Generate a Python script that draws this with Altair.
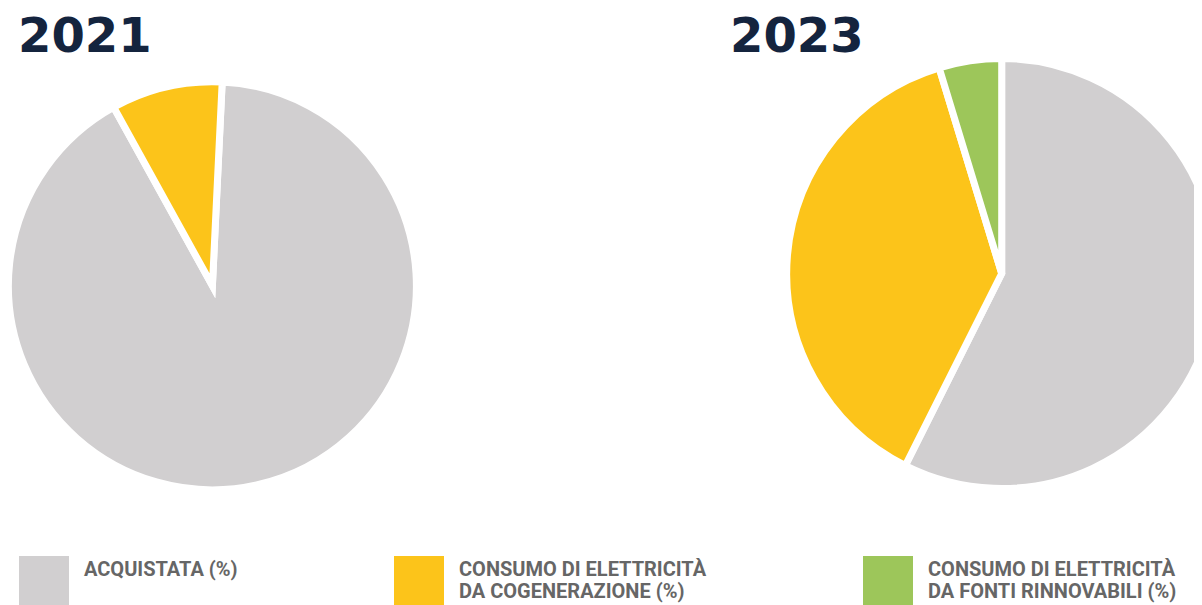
import math
import altair as alt
import pandas as pd

# ---- data ----
years = ["2021", "2023"]
categories = [
    "ACQUISTATA (%)",
    "CONSUMO DI ELETTRICITÀ|DA COGENERAZIONE (%)",
    "CONSUMO DI ELETTRICITÀ|DA FONTI RINNOVABILI (%)",
]
colors = ["#D1CFD0", "#FCC41A", "#9DC65A"]
values_2021 = [91.2, 8.8]
values_2023 = [57.4, 37.9, 4.7]

rows = []
for yr, vals in (("2021", values_2021), ("2023", values_2023)):
    for i, v in enumerate(vals):
        rows.append({"year": yr, "category": categories[i], "order": i, "value": v})
df = pd.DataFrame(rows)
titles_df = pd.DataFrame({"year": years})

color = alt.Color(
    "category:N",
    scale=alt.Scale(domain=categories, range=colors),
    sort=categories,
    legend=alt.Legend(
        title=None,
        orient="none",
        legendX=11,
        legendY=548,
        direction="horizontal",
        columns=3,
        symbolType="square",
        symbolSize=2500,
        symbolStrokeWidth=0,
        symbolOpacity=1,
        labelFont="Roboto",
        labelFontWeight="bold",
        labelFontSize=20,
        labelColor="#666666",
        labelOffset=15,
        labelLimit=500,
        labelBaseline="line-bottom",
        columnPadding=156,
        padding=0,
        labelExpr="split(datum.label, '|')",
    ),
)


def pie(year, cx, cy, r, start):
    return (
        alt.Chart(df)
        .transform_filter(alt.datum.year == year)
        .mark_arc(radius=r, stroke="white", strokeWidth=7, strokeJoin="miter")
        .encode(
            theta=alt.Theta(
                "value:Q",
                stack=True,
                scale=alt.Scale(domain=[0, 100], range=[start, start + 2 * math.pi]),
            ),
            color=color,
            order=alt.Order("order:Q"),
            x=alt.value(cx),
            y=alt.value(cy),
        )
    )


def title(year, x):
    return (
        alt.Chart(titles_df)
        .transform_filter(alt.datum.year == year)
        .mark_text(
            align="left",
            baseline="alphabetic",
            font="DejaVu Sans",
            fontWeight="bold",
            fontSize=48,
            color="#14243E",
        )
        .encode(text="year:N", x=alt.value(x), y=alt.value(44))
    )


chart = (
    alt.layer(
        pie("2021", 204.4, 277.8, 204, 0.048),
        pie("2023", 993.7, 265.5, 215, 0.0),
        title("2021", 10),
        title("2023", 722),
    )
    .resolve_scale(theta="independent")
    .properties(
        width=1186,
        height=597,
        padding=0,
        autosize=alt.AutoSizeParams(type="none"),
    )
    .configure_view(stroke=None)
)

chart.save("out.html", embed_options={"renderer": "svg", "actions": False})
